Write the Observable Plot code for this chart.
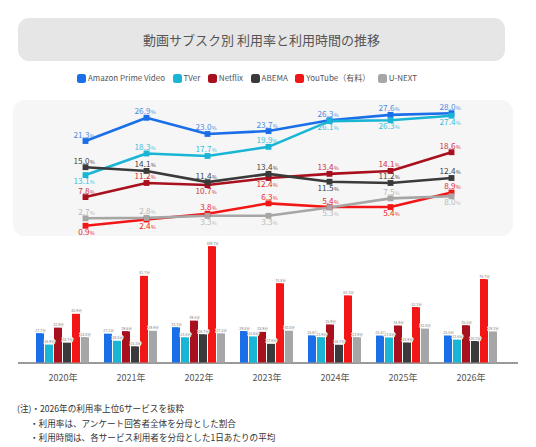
<!DOCTYPE html>
<html><head><meta charset="utf-8">
<script src="https://cdn.jsdelivr.net/npm/d3@7"></script>
<script src="https://cdn.jsdelivr.net/npm/@observablehq/plot@0.6"></script>
<style>
body{margin:0;background:#fff;font-family:"Noto Sans CJK JP","Noto Sans",sans-serif;}
#wrap{position:relative;width:536px;height:447px;overflow:hidden;}
#title{position:absolute;left:18px;top:18px;width:487px;height:43px;background:#e6e6e6;border-radius:11px;
  display:flex;align-items:center;justify-content:center;font-size:13px;color:#555;}
#legend{position:absolute;left:77px;top:72px;display:flex;gap:7.5px;font-size:8px;color:#555;line-height:12px;}
#legend .it{display:flex;align-items:center;gap:2px;}
#legend .sw{width:9px;height:9px;border-radius:2.5px;display:inline-block;}
#panel{position:absolute;left:13px;top:100px;width:500px;height:136px;background:#f6f6f6;border-radius:12px;}
#lines{position:absolute;left:0;top:95px;}
#bars{position:absolute;left:0;top:235px;}
#base{position:absolute;left:18px;top:362px;width:500px;height:1.5px;background:#9a9a9a;}
#notes{position:absolute;left:17px;top:401px;font-size:8.6px;color:#333;line-height:14.5px;}
#notes .ind{padding-left:13px;}
svg{overflow:visible;}
</style></head><body><div id="wrap">
<div id="title">動画サブスク別 利用率と利用時間の推移</div>
<div id="legend"></div>
<div id="panel"></div>
<div id="lines"></div>
<div id="base"></div>
<div id="bars"></div>
<div id="notes">
<div>(注)・2026年の利用率上位6サービスを抜粋</div>
<div class="ind">・利用率は、アンケート回答者全体を分母とした割合</div>
<div class="ind">・利用時間は、各サービス利用者を分母とした1日あたりの平均</div>
</div>
</div>
<script>
const years = [2020, 2021, 2022, 2023, 2024, 2025, 2026];
const series = ["Amazon Prime Video", "TVer", "Netflix", "ABEMA", "YouTube（有料）", "U-NEXT"];

// 利用率 (%)
const rateAmazon  = [21.3, 26.9, 23.0, 23.7, 26.3, 27.6, 28.0];
const rateTVer    = [13.1, 18.3, 17.7, 19.9, 26.1, 26.3, 27.4];
const rateNetflix = [7.8, 11.2, 10.7, 12.4, 13.4, 14.1, 18.6];
const rateABEMA   = [15.0, 14.1, 11.4, 13.4, 11.5, 11.2, 12.4];
const rateYouTube = [0.9, 2.4, 3.8, 6.3, 5.4, 5.4, 8.9];
const rateUNEXT   = [2.7, 2.8, 3.3, 3.3, 5.3, 7.5, 8.0];

// 利用時間 (分)
const timeAmazon  = [27.7, 27.2, 33.3, 29.8, 25.6, 25.4, 25.5];
const timeTVer    = [16.9, 20.5, 23.8, 24.6, 23.9, 23.6, 21.6];
const timeNetflix = [32.9, 29.6, 39.5, 28.9, 35.9, 34.9, 35.2];
const timeABEMA   = [18.7, 15.3, 26.7, 17.6, 16.7, 18.9, 20.3];
const timeYouTube = [45.9, 81.7, 109.7, 74.8, 63.3, 52.3, 78.7];
const timeUNEXT   = [24.0, 29.9, 27.5, 30.0, 23.9, 32.0, 29.3];

// label placement (1 = below the point)
const belowAmazon  = [0,0,0,0,0,0,0];
const belowTVer    = [1,0,0,0,1,1,1];
const belowNetflix = [0,0,1,1,0,0,0];
const belowABEMA   = [0,0,0,0,1,0,0];
const belowYouTube = [1,1,0,0,0,1,0];
const belowUNEXT   = [0,0,1,1,1,0,1];

const colors = ["#1a6fe8", "#19b5d5", "#a8101e", "#3a3a3a", "#f21616", "#a6a6a6"];
const labelColors = ["#4a8ce6", "#3cbfdc", "#d03040", "#444444", "#e82828", "#b8b8b8"];

const rates = [rateAmazon, rateTVer, rateNetflix, rateABEMA, rateYouTube, rateUNEXT];
const times = [timeAmazon, timeTVer, timeNetflix, timeABEMA, timeYouTube, timeUNEXT];
const belows = [belowAmazon, belowTVer, belowNetflix, belowABEMA, belowYouTube, belowUNEXT];

// legend
const lg = document.getElementById("legend");
series.forEach((s, i) => {
  const it = document.createElement("div"); it.className = "it";
  it.innerHTML = `<span class="sw" style="background:${colors[i]}"></span><span>${s}</span>`;
  lg.appendChild(it);
});

const rateRows = series.flatMap((s, i) => years.map((y, j) => ({series: s, idx: i, year: y, value: rates[i][j], below: belows[i][j]})));
const timeRows = series.flatMap((s, i) => years.map((y, j) => ({series: s, idx: i, year: y, value: times[i][j]})));

const font = '"Noto Sans CJK JP","Noto Sans",sans-serif';

const labelMarks = [];
series.forEach((s, i) => {
  const rows = rateRows.filter(d => d.idx === i);
  const up = rows.filter(d => !d.below), dn = rows.filter(d => d.below);
  for (const [data, dy] of [[up, -3.5], [dn, 9]]) {
    labelMarks.push(Plot.text(data, {x: "year", y: "value", text: d => d.value.toFixed(1), textAnchor: "end", lineAnchor: "bottom", dx: 4, dy, fontSize: 8.2, fill: labelColors[i]}));
    labelMarks.push(Plot.text(data, {x: "year", y: "value", text: () => "%", textAnchor: "start", lineAnchor: "bottom", dx: 4.5, dy, fontSize: 5.2, fill: labelColors[i]}));
  }
});

const linePlot = Plot.plot({
  width: 536, height: 145,
  x: {type: "point", domain: years, range: [51, 484], axis: null},
  y: {domain: [0, 30], range: [134, 9.4], axis: null},
  color: {domain: series, range: colors},
  style: {background: "transparent", fontFamily: font, overflow: "visible"},
  marks: [
    Plot.line(rateRows, {x: "year", y: "value", z: "series", stroke: "series", strokeWidth: 2.6}),
    Plot.dot(rateRows, {x: "year", y: "value", fill: "series", symbol: "square", r: 3.3}),
    ...labelMarks
  ]
});
document.getElementById("lines").appendChild(linePlot);

const barPlot = Plot.plot({
  width: 536, height: 160,
  marginLeft: 25, marginRight: 28.7, marginTop: 5.5, marginBottom: 32.5,
  fx: {domain: years, paddingInner: 0.194, paddingOuter: 0.097, label: null, axis: "bottom", tickSize: 0, tickPadding: 12, tickFormat: d => d + "年"},
  x: {domain: series, paddingInner: 0.13, paddingOuter: 0, axis: null},
  y: {domain: [0, 115], axis: null},
  color: {domain: series, range: colors},
  style: {background: "transparent", fontFamily: font, fontSize: "9px", color: "#555", overflow: "visible"},
  marks: [
    Plot.barY(timeRows, {fx: "year", x: "series", y: "value", fill: "series"}),
    Plot.text(timeRows, {fx: "year", x: "series", y: "value", text: d => d.value.toFixed(1) + "分", fontSize: 3.5, dy: -3, fill: "#777", stroke: "white", strokeWidth: 2})
  ]
});
document.getElementById("bars").appendChild(barPlot);
</script>
</body></html>
